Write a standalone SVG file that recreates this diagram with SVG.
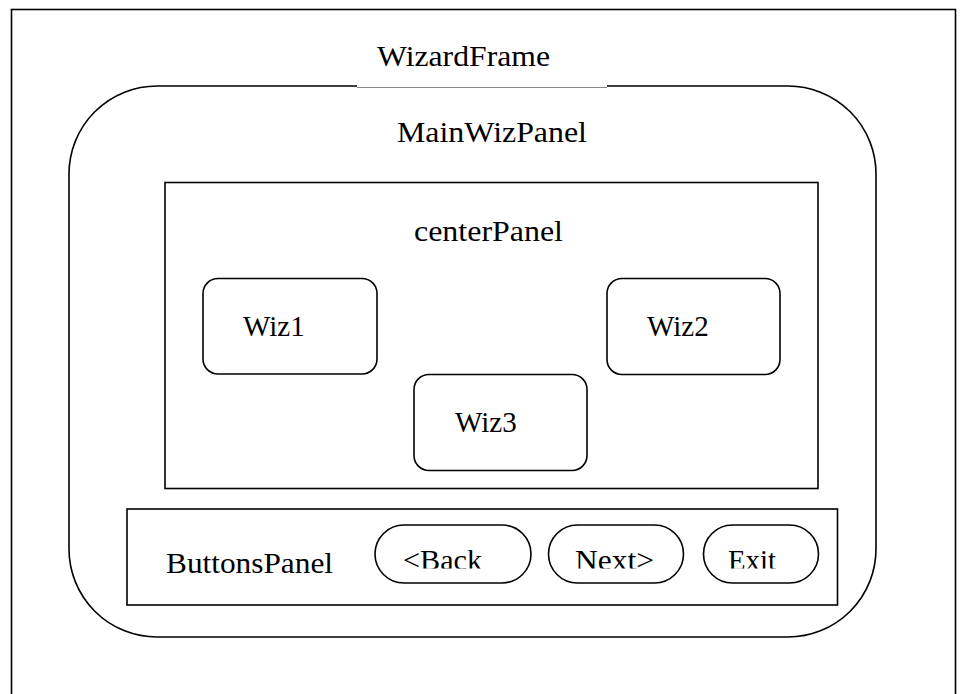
<svg xmlns="http://www.w3.org/2000/svg" width="963" height="694" viewBox="0 0 963 694">
<defs>
<style>
.box{fill:none;stroke:#000;stroke-width:1.6}
.t{font-family:"Liberation Serif","Times New Roman",serif;font-size:29px;fill:#000}
</style>
<clipPath id="btnclip"><rect x="0" y="0" width="963" height="568.5"/></clipPath>
</defs>
<rect width="963" height="694" fill="#fff"/>
<g id="WizardFrame">
<rect class="box" x="11.5" y="9.5" width="944" height="700"/>
<text class="t" x="377" y="66" textLength="173" lengthAdjust="spacingAndGlyphs">WizardFrame</text>
</g>
<g id="MainWizPanel">
<path class="box" d="M357 86 H157 A88 88 0 0 0 69 174 V549 A88 88 0 0 0 157 637 H788 A88 88 0 0 0 876 549 V174 A88 88 0 0 0 788 86 H607"/>
<line x1="357" y1="87.5" x2="607" y2="87.5" stroke="#888" stroke-width="1"/>
<text class="t" x="397" y="142" textLength="190" lengthAdjust="spacingAndGlyphs">MainWizPanel</text>
</g>
<g id="centerPanel">
<rect class="box" x="165" y="182.5" width="653" height="306"/>
<text class="t" x="414" y="241" textLength="149" lengthAdjust="spacingAndGlyphs">centerPanel</text>
</g>
<g id="Wiz1">
<rect class="box" x="203" y="278.5" width="174" height="95.5" rx="15"/>
<text class="t" x="243" y="336">Wiz1</text>
</g>
<g id="Wiz2">
<rect class="box" x="607" y="278.5" width="173" height="96" rx="15"/>
<text class="t" x="647" y="336">Wiz2</text>
</g>
<g id="Wiz3">
<rect class="box" x="414" y="374.5" width="173" height="96" rx="15"/>
<text class="t" x="455" y="432">Wiz3</text>
</g>
<g id="ButtonsPanel">
<rect class="box" x="127" y="509" width="710.5" height="96"/>
<text class="t" x="166" y="573" textLength="167" lengthAdjust="spacingAndGlyphs">ButtonsPanel</text>
</g>
<g id="BackButton">
<rect class="box" x="375" y="525" width="156" height="58" rx="29"/>
<text class="t" x="403" y="570" clip-path="url(#btnclip)" textLength="79" lengthAdjust="spacingAndGlyphs">&lt;Back</text>
</g>
<g id="NextButton">
<rect class="box" x="548.5" y="525" width="135" height="58" rx="29"/>
<text class="t" x="575" y="570" clip-path="url(#btnclip)" textLength="79" lengthAdjust="spacingAndGlyphs">Next&gt;</text>
</g>
<g id="ExitButton">
<rect class="box" x="703.5" y="525" width="115" height="58" rx="29"/>
<text class="t" x="728" y="570" clip-path="url(#btnclip)" textLength="48" lengthAdjust="spacingAndGlyphs">Exit</text>
</g>
<g id="connectors"></g>
</svg>
